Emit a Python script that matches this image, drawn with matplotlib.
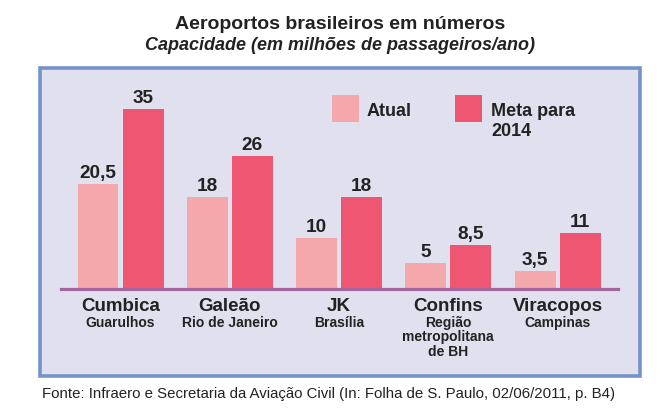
import numpy as np
import matplotlib
matplotlib.use("Agg")
import matplotlib.pyplot as plt
from matplotlib.patches import Rectangle

# Dados (milhões de passageiros/ano)
aeroportos = ["Cumbica", "Galeão", "JK", "Confins", "Viracopos"]
cidades = [["Guarulhos"], ["Rio de Janeiro"], ["Brasília"],
           ["Região", "metropolitana", "de BH"], ["Campinas"]]
atual = [20.5, 18, 10, 5, 3.5]
meta = [35, 26, 18, 8.5, 11]
rotulos_atual = ["20,5", "18", "10", "5", "3,5"]
rotulos_meta = ["35", "26", "18", "8,5", "11"]

cor_atual = "#f5a8ac"
cor_meta = "#ee5672"
cor_fundo = "#e0e0ee"
cor_borda = "#7592c9"
cor_eixo = "#a4669c"
cor_texto = "#222222"

plt.rcParams['font.family'] = ['Liberation Sans', 'DejaVu Sans']

W, H = 662, 418
fig = plt.figure(figsize=(W / 100, H / 100), dpi=100)
fig.patch.set_facecolor("white")


def fx(x):
    return x / W


def fy(y):
    return 1 - y / H


# Moldura
fig.add_artist(Rectangle((fx(40), fy(376)), (640 - 40) / W, (376 - 68) / H,
                         transform=fig.transFigure, facecolor=cor_fundo,
                         edgecolor=cor_borda, linewidth=2.6, zorder=0))

# Eixos: linha base em y=289 px, 5.13 px por unidade
base, topo = 289, 80
ax = fig.add_axes([fx(61), fy(base), (618 - 61) / W, (base - topo) / H])
ax.set_facecolor("none")
ax.set_ylim(0, (base - topo) / 5.13)
ax.set_xlim(-0.5446, 4.553)

x = np.arange(len(aeroportos))
larg = 0.375
desl = 0.206
b1 = ax.bar(x - desl, atual, larg, color=cor_atual, zorder=2)
b2 = ax.bar(x + desl, meta, larg, color=cor_meta, zorder=2)

for barras, rot in [(b1, rotulos_atual), (b2, rotulos_meta)]:
    for b, r in zip(barras, rot):
        ax.annotate(r, (b.get_x() + b.get_width() / 2, b.get_height()),
                    xytext=(0, 6), textcoords="offset pixels",
                    ha="center", va="baseline", fontsize=13.7,
                    fontweight="bold", color=cor_texto)

for s in ["top", "left", "right"]:
    ax.spines[s].set_visible(False)
ax.spines["bottom"].set_color(cor_eixo)
ax.spines["bottom"].set_linewidth(2.3)
ax.spines["bottom"].set_zorder(3)
ax.set_xticks([])
ax.set_yticks([])

# Nomes dos aeroportos e cidades
for xi, nome, cid in zip(x, aeroportos, cidades):
    ax.annotate(nome, (xi, 0), xytext=(0, -(311 - base)),
                textcoords="offset pixels", ha="center", va="baseline",
                fontsize=13.5, fontweight="bold", color=cor_texto,
                annotation_clip=False)
    for k, linha in enumerate(cid):
        ax.annotate(linha, (xi, 0), xytext=(0, -(327 - base + 14.5 * k)),
                    textcoords="offset pixels", ha="center", va="baseline",
                    fontsize=10, fontweight="bold", color=cor_texto,
                    annotation_clip=False)

# Legenda
fig.add_artist(Rectangle((fx(332), fy(122)), 27 / W, 27 / H,
                         transform=fig.transFigure, facecolor=cor_atual,
                         edgecolor="none"))
fig.add_artist(Rectangle((fx(455), fy(122)), 27 / W, 27 / H,
                         transform=fig.transFigure, facecolor=cor_meta,
                         edgecolor="none"))
fig.text(fx(367), fy(116), "Atual", fontsize=13, fontweight="bold",
         color=cor_texto, va="baseline")
fig.text(fx(491), fy(116), "Meta para", fontsize=13, fontweight="bold",
         color=cor_texto, va="baseline")
fig.text(fx(491), fy(136), "2014", fontsize=13, fontweight="bold",
         color=cor_texto, va="baseline")

# Títulos
fig.text(fx(340), fy(29), "Aeroportos brasileiros em números", fontsize=14,
         fontweight="bold", ha="center", va="baseline", color=cor_texto)
fig.text(fx(340), fy(50), "Capacidade (em milhões de passageiros/ano)",
         fontsize=13, fontweight="bold", fontstyle="italic", ha="center",
         va="baseline", color=cor_texto)

# Fonte
fig.text(fx(42), fy(398),
         "Fonte: Infraero e Secretaria da Aviação Civil (In: Folha de S. Paulo, 02/06/2011, p. B4)",
         fontsize=10.8, ha="left", va="baseline", color=cor_texto)

fig.savefig("out.png", dpi=100)
